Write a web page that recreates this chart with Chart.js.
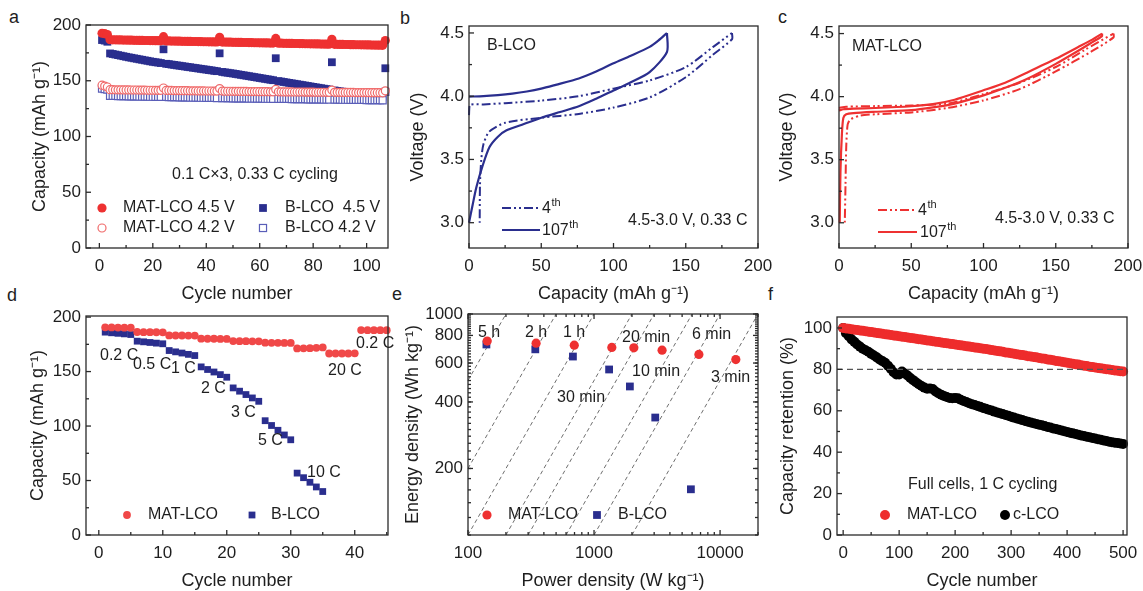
<!DOCTYPE html>
<html>
<head>
<meta charset="utf-8">
<script src="https://cdn.jsdelivr.net/npm/chart.js@4.4.1/dist/chart.umd.min.js"></script>
<style>
  body { margin: 0; background: #fff; width: 1143px; height: 591px; overflow: hidden; position: relative;
         font-family: "Liberation Sans", Arial, sans-serif; }
  canvas { position: absolute; }
  .tag { position: absolute; font-size: 18px; line-height: 20px; color: #1e1e1e; }
</style>
</head>
<body>
<div class="tag" style="left:9px;top:7px">a</div>
<div class="tag" style="left:400px;top:8px">b</div>
<div class="tag" style="left:778px;top:7px">c</div>
<div class="tag" style="left:7px;top:285px">d</div>
<div class="tag" style="left:392px;top:284px">e</div>
<div class="tag" style="left:768px;top:284px">f</div>
<canvas id="pa"></canvas>
<canvas id="pb"></canvas>
<canvas id="pc"></canvas>
<canvas id="pd"></canvas>
<canvas id="pe"></canvas>
<canvas id="pf"></canvas>
<script>
// ---- (a) half-cell cycling, 0.1 C x3 then 0.33 C ----
const cyclesA = Array.from({length: 107}, (_, i) => i + 1);
const matLco45 = [192.6, 192.2, 191.4,
  186.8, 186.7, 186.7, 186.6, 186.6, 186.5, 186.5, 186.4, 186.4, 186.3,
  186.3, 186.2, 186.2, 186.1, 186.1, 186.0, 186.0, 185.9, 185.9, 185.8,
  189.5,
  185.7, 185.7, 185.6, 185.6, 185.5, 185.5, 185.4, 185.4, 185.3, 185.3,
  185.2, 185.2, 185.1, 185.1, 185.0, 185.0, 184.9, 184.9, 184.8, 184.8,
  189.0,
  184.7, 184.7, 184.6, 184.6, 184.5, 184.5, 184.4, 184.4, 184.3, 184.3,
  184.2, 184.2, 184.1, 184.1, 184.0, 184.0, 183.9, 183.9, 183.8, 183.8,
  188.0,
  183.7, 183.7, 183.6, 183.6, 183.5, 183.5, 183.4, 183.4, 183.3, 183.3,
  183.2, 183.2, 183.1, 183.1, 183.0, 183.0, 182.9, 182.9, 182.8, 182.8,
  187.2,
  182.7, 182.7, 182.6, 182.6, 182.5, 182.5, 182.4, 182.4, 182.3, 182.3,
  182.2, 182.2, 182.1, 182.1, 182.0, 182.0, 181.9, 181.9, 181.8,
  186.0];
const bLco45 = [186.5, 186.0, 185.0,
  174.5, 174.0, 173.5, 173.0, 172.5, 172.0, 171.5,
  171.0, 170.6, 170.1, 169.7, 169.2, 168.8, 168.3, 167.9, 167.4, 167.0,
  166.6, 166.3, 165.9,
  178.2,
  165.2, 164.9, 164.5, 164.2, 163.8, 163.5,
  163.1, 162.8, 162.4, 162.1, 161.7, 161.4, 161.0, 160.7, 160.3, 160.0,
  159.6, 159.3, 158.9, 158.6,
  174.6,
  157.9, 157.5, 157.2, 156.8, 156.5,
  156.1, 155.7, 155.3, 154.9, 154.5, 154.1, 153.7, 153.3, 152.9, 152.5,
  152.1, 151.7, 151.3, 150.9, 150.5,
  170.2,
  149.7, 149.3, 148.9, 148.5,
  148.1, 147.7, 147.3, 146.9, 146.5, 146.1, 145.7, 145.3, 144.9, 144.5,
  144.1, 143.7, 143.3, 142.9, 142.5, 142.1,
  166.6,
  141.3, 140.9, 140.5,
  140.2, 139.9, 139.6, 139.3, 139.0, 138.7, 138.4, 138.1, 137.8, 137.5,
  137.2, 136.9, 136.7, 136.4, 136.1, 135.8,
  161.2];
const matLco42 = [146.0, 145.2, 144.4,
  142.0, 142.0, 141.9, 141.9, 141.9, 141.8, 141.8, 141.8, 141.7, 141.7,
  141.7, 141.6, 141.6, 141.6, 141.5, 141.5, 141.5, 141.4, 141.4, 141.4,
  143.5,
  141.3, 141.3, 141.3, 141.2, 141.2, 141.2, 141.1, 141.1, 141.1, 141.0,
  141.0, 141.0, 140.9, 140.9, 140.9, 140.8, 140.8, 140.8, 140.7, 140.7,
  143.0,
  140.7, 140.6, 140.6, 140.6, 140.5, 140.5, 140.5, 140.4, 140.4, 140.4,
  140.3, 140.3, 140.3, 140.3, 140.2, 140.2, 140.2, 140.2, 140.1, 140.1,
  142.2,
  140.1, 140.1, 140.0, 140.0, 140.0, 140.0, 139.9, 139.9, 139.9, 139.9,
  139.8, 139.8, 139.8, 139.8, 139.7, 139.7, 139.7, 139.7, 139.6, 139.6,
  141.6,
  139.6, 139.6, 139.6, 139.5, 139.5, 139.5, 139.5, 139.5, 139.4, 139.4,
  139.4, 139.4, 139.4, 139.3, 139.3, 139.3, 139.3, 139.3, 139.2,
  141.0];
const bLco42 = [143.0, 142.5, 142.0,
  136.5, 136.4, 136.4, 136.3, 136.3, 136.2, 136.2, 136.1, 136.1, 136.0,
  136.0, 135.9, 135.9, 135.8, 135.8, 135.7, 135.7, 135.6, 135.6, 135.5,
  142.0,
  135.5, 135.4, 135.4, 135.3, 135.3, 135.2, 135.2, 135.1, 135.1, 135.0,
  135.0, 134.9, 134.9, 134.8, 134.8, 134.7, 134.7, 134.6, 134.6, 134.5,
  141.5,
  134.5, 134.4, 134.4, 134.4, 134.3, 134.3, 134.3, 134.2, 134.2, 134.2,
  134.1, 134.1, 134.1, 134.0, 134.0, 134.0, 133.9, 133.9, 133.9, 133.8,
  141.0,
  133.8, 133.8, 133.7, 133.7, 133.7, 133.6, 133.6, 133.6, 133.5, 133.5,
  133.5, 133.4, 133.4, 133.4, 133.3, 133.3, 133.3, 133.2, 133.2, 133.2,
  140.5,
  133.1, 133.1, 133.1, 133.0, 133.0, 133.0, 132.9, 132.9, 132.9, 132.8,
  132.8, 132.8, 132.7, 132.7, 132.7, 132.6, 132.6, 132.6, 132.5,
  140.0];

// ---- (b) B-LCO voltage profiles [capacity, voltage] ----
const b107Charge = [[0, 3.997], [10, 4.0], [20, 4.008], [30, 4.02], [40, 4.037], [50, 4.06], [60, 4.09],
  [76, 4.14], [88, 4.195], [100, 4.26], [112, 4.32], [125, 4.39], [131, 4.44], [137, 4.5]];
const b107Discharge = [[137, 4.5], [137, 4.35], [125, 4.19], [112, 4.11], [100, 4.045], [88, 3.98], [76, 3.92],
  [63, 3.875], [50, 3.83], [38, 3.78], [26, 3.73], [20, 3.68], [14.3, 3.6], [9.7, 3.46], [5.1, 3.28], [2.5, 3.14], [0, 3.0]];
const b4Charge = [[0, 3.85], [0.6, 3.93], [10, 3.935], [25, 3.945], [50, 3.965], [76, 4.0], [100, 4.06],
  [125, 4.125], [150, 4.23], [169, 4.39], [182, 4.5]];
const b4Discharge = [[182, 4.5], [182, 4.45], [169, 4.33], [150, 4.15], [125, 3.99], [100, 3.91], [76, 3.86],
  [50, 3.83], [25, 3.79], [14, 3.72], [10, 3.62], [8.5, 3.5], [7.6, 3.3], [7.4, 3.0]];

// ---- (c) MAT-LCO voltage profiles ----
const c107Charge = [[0, 3.89], [3, 3.9], [10, 3.905], [25, 3.91], [50, 3.924], [65, 3.94], [80, 3.975],
  [100, 4.05], [115, 4.11], [130, 4.19], [150, 4.3], [165, 4.39], [175, 4.45], [182, 4.5]];
const c107Discharge = [[182, 4.5], [182, 4.48], [175, 4.43], [165, 4.36], [150, 4.26], [130, 4.14], [115, 4.07],
  [100, 4.01], [80, 3.945], [65, 3.915], [50, 3.893], [25, 3.88], [10, 3.87], [5, 3.86], [3, 3.83], [2, 3.7], [1, 3.4], [0.5, 3.0]];
const c4Charge = [[0, 3.91], [5, 3.92], [25, 3.925], [50, 3.93], [75, 3.945], [100, 4.02], [125, 4.11],
  [150, 4.235], [170, 4.37], [190, 4.5]];
const c4Discharge = [[190, 4.5], [190, 4.47], [175, 4.36], [150, 4.2], [125, 4.06], [100, 3.97], [75, 3.91],
  [50, 3.875], [25, 3.86], [15, 3.85], [8, 3.82], [6, 3.78], [5, 3.6], [4.5, 3.3], [4, 3.0]];

// ---- (d) rate capability ----
const cyclesD = Array.from({length: 45}, (_, i) => i + 1);
const rateMat = [190.6, 190.5, 190.4, 190.3, 190.2, 186.3, 186.2, 186.2, 186.1, 186.0,
  183.2, 183.1, 183.1, 183.0, 183.0, 180.2, 180.1, 180.1, 180.0, 180.0,
  178.0, 177.9, 177.9, 177.8, 177.8, 176.5, 176.4, 176.4, 176.3, 176.3,
  171.2, 171.3, 171.5, 171.8, 172.2, 166.6, 166.6, 166.6, 166.6, 166.7,
  188.1, 188.0, 188.0, 188.0, 188.0];
const rateB = [186.2, 185.6, 185.1, 184.6, 184.0, 177.9, 177.3, 176.7, 176.1, 175.5,
  169.3, 168.1, 167.0, 165.8, 164.7, 154.3, 151.9, 149.6, 147.2, 144.8,
  135.0, 132.0, 128.9, 125.8, 122.7, 104.9, 100.5, 96.1, 91.8, 87.4,
  56.8, 52.6, 48.4, 44.1, 39.9];

// ---- (e) Ragone plot ----
const powerMat = [142, 347, 697, 1384, 2070, 3467, 6790, 13340];
const energyMat = [754, 738, 723, 706, 703, 686, 656, 622];
const powerB = [140, 342, 680, 1317, 1925, 3060, 5870];
const energyB = [728, 692, 642, 561, 470, 340, 161];
// constant discharge-time guide lines: 5 h, 2 h, 1 h, 30, 20, 10, 6, 3 min
const isoLines = [
  [[100, 500], [200, 1000]],
  [[100, 200], [500, 1000]],
  [[100, 100], [1000, 1000]],
  [[200, 100], [2000, 1000]],
  [[300, 100], [3000, 1000]],
  [[600, 100], [6000, 1000]],
  [[1000, 100], [10000, 1000]],
  [[2000, 100], [20000, 1000]]
];

// ---- (f) full cells, 1 C ----
const cyclesF = Array.from({length: 101}, (_, i) => i * 5);
const retMat = [100.0,
  99.8, 99.6, 99.4, 99.2, 99.0, 98.8, 98.6, 98.4, 98.2, 98.0,
  97.8, 97.6, 97.4, 97.2, 97.0, 96.8, 96.6, 96.4, 96.2, 96.0,
  95.8, 95.6, 95.4, 95.2, 95.0, 94.8, 94.6, 94.4, 94.2, 94.0,
  93.8, 93.6, 93.4, 93.2, 93.0, 92.8, 92.6, 92.4, 92.2, 92.0,
  91.8, 91.6, 91.4, 91.2, 91.0, 90.8, 90.6, 90.4, 90.2, 90.0,
  89.8, 89.6, 89.3, 89.1, 88.9, 88.7, 88.5, 88.2, 88.0, 87.8,
  87.6, 87.3, 87.1, 86.9, 86.7, 86.4, 86.2, 86.0, 85.8, 85.5,
  85.3, 85.1, 84.8, 84.6, 84.4, 84.1, 83.9, 83.7, 83.4, 83.2,
  83.0, 82.7, 82.5, 82.3, 82.0, 81.8, 81.6, 81.3, 81.1, 80.9,
  80.7, 80.5, 80.3, 80.1, 79.9, 79.7, 79.5, 79.3, 79.1, 79.0];
const retC = [100.0, 97.5, 96.0, 94.5, 93.3, 92.0, 91.0, 90.0, 89.2, 88.5,
  87.5, 86.7, 85.8, 84.8, 84.0, 83.2, 81.8, 80.3, 78.6, 77.5,
  77.5, 79.0, 78.0, 77.0, 75.8, 74.8, 73.8, 72.8, 72.0, 71.2,
  70.6, 70.8, 70.5, 69.3, 68.5, 67.8, 67.2, 66.7, 66.2, 66.1,
  66.2, 66.0, 65.3, 64.7, 64.2, 63.6, 63.2, 62.8, 62.3, 61.9,
  61.4, 61.0, 60.5, 60.1, 59.6, 59.2, 58.8, 58.4, 58.0, 57.6,
  57.1, 56.7, 56.3, 55.9, 55.5, 55.1, 54.7, 54.3, 54.0, 53.6,
  53.3, 53.0, 52.6, 52.2, 51.9, 51.5, 51.2, 50.8, 50.5, 50.1,
  49.8, 49.4, 49.1, 48.8, 48.4, 48.1, 47.8, 47.5, 47.2, 46.9,
  46.6, 46.3, 46.0, 45.7, 45.4, 45.1, 44.8, 44.6, 44.4, 44.2,
  44.0];
const threshold = [[-11, 80], [507, 80]];

// ---------------------------------------------------------------
const FONT = '"Liberation Sans", Arial, sans-serif';
const RED = '#ee3131', RED_O = '#f06a6a', NAVY = '#2a2e8e', NAVY_O = '#5a5eb8';
const DASHDOT = [9, 3, 2, 3, 2, 3];
const XH = 57;
const PAD = {l: 4, t: 10, r: 14, b: 4};
const SUP = 'g\u207B\u00B9';

Chart.defaults.font.family = FONT;
Chart.defaults.color = '#1e1e1e';

const pts = (xs, ys) => xs.map((x, i) => ({x, y: ys[i]}));
const pairs = list => list.map(([x, y]) => ({x, y}));
const range = (a, b, s) => { const r = []; for (let v = a; v <= b + 1e-9; v += s) r.push(+v.toFixed(4)); return r; };

function marks(data, style, color, r, fill) {
  return {data, showLine: false, pointStyle: style, pointRadius: r, pointHoverRadius: r,
    pointBackgroundColor: fill || color, pointBorderColor: color, pointBorderWidth: fill ? 1.2 : 0, clip: false};
}
function curve(data, color, width, dash, tension) {
  return {data, showLine: true, pointRadius: 0, borderColor: color, borderWidth: width,
    borderDash: dash || [], tension: tension || 0, fill: false, clip: false};
}

function axis(s, horizontal, yW) {
  return {
    type: s.type || 'linear', min: s.min, max: s.max,
    grid: {display: false, drawTicks: false}, border: {display: false},
    title: {display: true, text: s.title, font: {size: 18}, color: '#1e1e1e', padding: 0},
    ticks: {font: {size: 17}, color: '#1e1e1e', padding: horizontal ? 8 : 5, autoSkip: false,
      maxRotation: 0, minRotation: 0, callback: v => s.fmt ? s.fmt(v) : String(v)},
    afterBuildTicks: sc => { sc.ticks = s.major.map(v => ({value: v})); },
    afterFit: sc => {
      if (horizontal) { sc.height = XH; sc.paddingLeft = 0; sc.paddingRight = 0; }
      else { sc.width = yW; sc.paddingTop = 0; sc.paddingBottom = 0; }
    }
  };
}

function drawKey(ctx, k) {
  ctx.save();
  ctx.strokeStyle = k.color;
  ctx.fillStyle = k.fill || k.color;
  ctx.lineWidth = k.lw || 1.2;
  if (k.kind === 'circle') {
    ctx.beginPath(); ctx.arc(k.x, k.y, k.r, 0, Math.PI * 2); ctx.fill();
    if (k.fill) ctx.stroke();
  } else if (k.kind === 'square') {
    const s = k.r * Math.SQRT1_2;
    ctx.fillRect(k.x - s, k.y - s, 2 * s, 2 * s);
    if (k.fill) ctx.strokeRect(k.x - s, k.y - s, 2 * s, 2 * s);
  } else {
    ctx.setLineDash(k.dash || []);
    ctx.lineWidth = k.lw || 2;
    ctx.beginPath(); ctx.moveTo(k.x, k.y); ctx.lineTo(k.x2, k.y); ctx.stroke();
  }
  ctx.restore();
}

function drawNote(ctx, n) {
  ctx.save();
  ctx.fillStyle = '#1e1e1e';
  ctx.textAlign = 'left';
  ctx.textBaseline = 'middle';
  ctx.font = (n.size || 16) + 'px ' + FONT;
  ctx.fillText(n.t, n.x, n.y);
  if (n.sup) {
    const w = ctx.measureText(n.t).width;
    ctx.font = '11px ' + FONT;
    ctx.fillText(n.sup, n.x + w + 0.5, n.y - 6);
  }
  ctx.restore();
}

function decor(spec) {
  return {
    id: 'decor',
    afterDatasetsDraw(chart) {
      const {ctx, chartArea: a} = chart;
      const sx = chart.scales.x, sy = chart.scales.y;
      const seg = (x1, y1, x2, y2) => { ctx.beginPath(); ctx.moveTo(x1, y1); ctx.lineTo(x2, y2); ctx.stroke(); };
      ctx.save();
      ctx.strokeStyle = '#2a2a2a';
      ctx.lineWidth = 1.3;
      ctx.strokeRect(a.left, a.top, a.right - a.left, a.bottom - a.top);
      [[spec.x.major, 5], [spec.x.minor, 3]].forEach(([list, len]) => (list || []).forEach(v => {
        const p = sx.getPixelForValue(v);
        seg(p, a.bottom, p, a.bottom - len);
        if (spec.mirror) seg(p, a.top, p, a.top + len);
      }));
      [[spec.y.major, 5], [spec.y.minor, 3]].forEach(([list, len]) => (list || []).forEach(v => {
        const p = sy.getPixelForValue(v);
        seg(a.left, p, a.left + len, p);
        if (spec.mirror) seg(a.right, p, a.right - len, p);
      }));
      ctx.restore();
      // keys and notes are given in page pixels
      ctx.save();
      ctx.translate(-spec.ox, -spec.oy);
      (spec.keys || []).forEach(k => drawKey(ctx, k));
      (spec.notes || []).forEach(n => drawNote(ctx, n));
      ctx.restore();
    }
  };
}

function makePanel(id, box, yW, spec) {
  const cv = document.getElementById(id);
  const ox = box.l - PAD.l - yW, oy = box.t - PAD.t;
  const w = PAD.l + yW + (box.r - box.l) + PAD.r;
  const h = PAD.t + (box.b - box.t) + XH + PAD.b;
  Object.assign(cv.style, {left: ox + 'px', top: oy + 'px', width: w + 'px', height: h + 'px'});
  cv.width = w; cv.height = h;
  spec.ox = ox; spec.oy = oy;
  return new Chart(cv, {
    type: 'scatter',
    data: {datasets: spec.datasets},
    options: {
      responsive: false, animation: false, events: [],
      layout: {padding: {left: PAD.l, top: PAD.t, right: PAD.r, bottom: PAD.b}},
      plugins: {legend: {display: false}, tooltip: {enabled: false}},
      scales: {x: axis(spec.x, true), y: axis(spec.y, false, yW)}
    },
    plugins: [decor(spec)]
  });
}

// (a)
makePanel('pa', {l: 86, t: 25, r: 388, b: 248}, 57, {
  x: {min: -5, max: 108, major: [0, 20, 40, 60, 80, 100], minor: [10, 30, 50, 70, 90], title: 'Cycle number'},
  y: {min: 0, max: 200, major: [0, 50, 100, 150, 200], minor: [25, 75, 125, 175], title: 'Capacity (mAh ' + SUP + ')'},
  datasets: [
    marks(pts(cyclesA, matLco45), 'circle', RED, 4.6),
    marks(pts(cyclesA, matLco42), 'circle', RED_O, 4, '#fff'),
    marks(pts(cyclesA, bLco42), 'rect', NAVY_O, 5, '#fff'),
    marks(pts(cyclesA, bLco45), 'rect', NAVY, 5.5)
  ],
  keys: [
    {kind: 'circle', x: 102, y: 208, r: 4.6, color: RED},
    {kind: 'square', x: 263, y: 208, r: 5.5, color: NAVY},
    {kind: 'circle', x: 102, y: 228, r: 4, color: RED_O, fill: '#fff'},
    {kind: 'square', x: 263, y: 228, r: 5, color: NAVY_O, fill: '#fff'}
  ],
  notes: [
    {t: '0.1 C\u00D73, 0.33 C cycling', x: 172, y: 175},
    {t: 'MAT-LCO 4.5 V', x: 123, y: 208},
    {t: 'B-LCO  4.5 V', x: 285, y: 208},
    {t: 'MAT-LCO 4.2 V', x: 123, y: 228},
    {t: 'B-LCO 4.2 V', x: 285, y: 228}
  ]
});

// (b)
makePanel('pb', {l: 469, t: 26, r: 758, b: 248}, 62, {
  x: {min: 0, max: 200, major: [0, 50, 100, 150, 200], minor: [25, 75, 125, 175], title: 'Capacity (mAh ' + SUP + ')'},
  y: {min: 2.8, max: 4.555, major: [3.0, 3.5, 4.0, 4.5], minor: [3.25, 3.75, 4.25], fmt: v => v.toFixed(1), title: 'Voltage (V)'},
  datasets: [
    curve(pairs(b107Charge), NAVY, 2.2, null, 0.25),
    curve(pairs(b107Discharge), NAVY, 2.2, null, 0.25),
    curve(pairs(b4Charge), NAVY, 2, DASHDOT, 0.25),
    curve(pairs(b4Discharge), NAVY, 2, DASHDOT, 0.25)
  ],
  keys: [
    {kind: 'line', x: 502, x2: 540, y: 208, color: NAVY, dash: DASHDOT},
    {kind: 'line', x: 502, x2: 540, y: 230, color: NAVY, lw: 2.2}
  ],
  notes: [
    {t: 'B-LCO', x: 487, y: 46},
    {t: '4', x: 542, y: 209, sup: 'th'},
    {t: '107', x: 542, y: 231, sup: 'th'},
    {t: '4.5-3.0 V, 0.33 C', x: 628, y: 221}
  ]
});

// (c)
makePanel('pc', {l: 839, t: 26, r: 1128, b: 248}, 63, {
  x: {min: 0, max: 200, major: [0, 50, 100, 150, 200], minor: [25, 75, 125, 175], title: 'Capacity (mAh ' + SUP + ')'},
  y: {min: 2.8, max: 4.56, major: [3.0, 3.5, 4.0, 4.5], minor: [3.25, 3.75, 4.25], fmt: v => v.toFixed(1), title: 'Voltage (V)'},
  datasets: [
    curve(pairs(c107Charge), RED, 2.2, null, 0.25),
    curve(pairs(c107Discharge), RED, 2.2, null, 0.25),
    curve(pairs(c4Charge), RED, 2, DASHDOT, 0.25),
    curve(pairs(c4Discharge), RED, 2, DASHDOT, 0.25)
  ],
  keys: [
    {kind: 'line', x: 878, x2: 917, y: 210, color: RED, dash: DASHDOT},
    {kind: 'line', x: 878, x2: 917, y: 232, color: RED, lw: 2.2}
  ],
  notes: [
    {t: 'MAT-LCO', x: 852, y: 47},
    {t: '4', x: 918, y: 211, sup: 'th'},
    {t: '107', x: 920, y: 233, sup: 'th'},
    {t: '4.5-3.0 V, 0.33 C', x: 995, y: 219}
  ]
});

// (d)
makePanel('pd', {l: 86, t: 316, r: 388, b: 535}, 59, {
  x: {min: -2, max: 45.2, major: [0, 10, 20, 30, 40], minor: [5, 15, 25, 35, 45], title: 'Cycle number'},
  y: {min: 0, max: 201, major: [0, 50, 100, 150, 200], minor: [25, 75, 125, 175], title: 'Capacity (mAh ' + SUP + ')'},
  datasets: [
    marks(pts(cyclesD, rateMat), 'circle', '#f04848', 3.9),
    marks(pts(cyclesD, rateB), 'rect', NAVY, 4.8)
  ],
  keys: [
    {kind: 'circle', x: 127, y: 515, r: 3.9, color: '#f04848'},
    {kind: 'square', x: 252, y: 515, r: 4.8, color: NAVY}
  ],
  notes: [
    {t: 'MAT-LCO', x: 148, y: 515},
    {t: 'B-LCO', x: 271, y: 515},
    {t: '0.2 C', x: 100, y: 356},
    {t: '0.5 C', x: 133, y: 365},
    {t: '1 C', x: 171, y: 369},
    {t: '2 C', x: 201, y: 389},
    {t: '3 C', x: 231, y: 413},
    {t: '5 C', x: 258, y: 441},
    {t: '10 C', x: 307, y: 473},
    {t: '20 C', x: 328, y: 371},
    {t: '0.2 C', x: 356, y: 344}
  ]
});

// (e)
const minorE = [200, 300, 400, 500, 600, 700, 800, 900, 2000, 3000, 4000, 5000, 6000, 7000, 8000, 9000, 20000];
makePanel('pe', {l: 468, t: 314, r: 758, b: 535}, 66, {
  mirror: true,
  x: {type: 'logarithmic', min: 100, max: 20000, major: [100, 1000, 10000], minor: minorE, title: 'Power density (W kg\u207B\u00B9)'},
  y: {type: 'logarithmic', min: 100, max: 1000, major: [200, 400, 600, 800, 1000],
      minor: range(100, 1000, 20), title: 'Energy density (Wh kg\u207B\u00B9)'},
  datasets: [
    marks(pts(powerMat, energyMat), 'circle', RED, 4.6),
    marks(pts(powerB, energyB), 'rect', NAVY, 5.5),
    ...isoLines.map(l => curve(pairs(l), '#6e6e6e', 1, [4, 3]))
  ],
  keys: [
    {kind: 'circle', x: 487, y: 515, r: 4.6, color: RED},
    {kind: 'square', x: 597, y: 515, r: 5.5, color: NAVY}
  ],
  notes: [
    {t: 'MAT-LCO', x: 508, y: 515},
    {t: 'B-LCO', x: 618, y: 515},
    {t: '5 h', x: 478, y: 333},
    {t: '2 h', x: 525, y: 333},
    {t: '1 h', x: 563, y: 333},
    {t: '20 min', x: 622, y: 338},
    {t: '6 min', x: 692, y: 335},
    {t: '10 min', x: 632, y: 372},
    {t: '3 min', x: 711, y: 378},
    {t: '30 min', x: 557, y: 398}
  ]
});

// (f)
makePanel('pf', {l: 837, t: 317, r: 1127, b: 535}, 60, {
  x: {min: -11, max: 507, major: [0, 100, 200, 300, 400, 500], minor: [50, 150, 250, 350, 450], title: 'Cycle number'},
  y: {min: 0, max: 105.3, major: [0, 20, 40, 60, 80, 100], minor: [10, 30, 50, 70, 90], title: 'Capacity retention (%)'},
  datasets: [
    curve(pairs(threshold), '#555', 1.4, [6, 4]),
    marks(pts(cyclesF, retMat), 'circle', '#ee2c2c', 5),
    marks(pts(cyclesF, retC), 'circle', '#000', 5)
  ],
  keys: [
    {kind: 'circle', x: 885, y: 515, r: 5, color: '#ee2c2c'},
    {kind: 'circle', x: 1005, y: 515, r: 5, color: '#000'}
  ],
  notes: [
    {t: 'Full cells, 1 C cycling', x: 908, y: 485},
    {t: 'MAT-LCO', x: 907, y: 515},
    {t: 'c-LCO', x: 1013, y: 515}
  ]
});
</script>
</body>
</html>
